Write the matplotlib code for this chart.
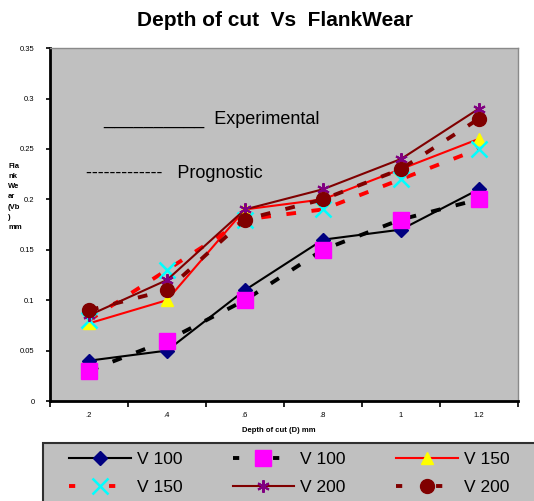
import matplotlib.pyplot as plt
from matplotlib.lines import Line2D
from matplotlib.patches import Rectangle

plt.rcParams['font.family'] = ['Liberation Sans', 'DejaVu Sans']

depth_labels = [".2", ".4", ".6", ".8", "1", "1.2"]
v100_exp = [0.04, 0.05, 0.11, 0.16, 0.17, 0.21]
v100_prog = [0.03, 0.06, 0.10, 0.15, 0.18, 0.20]
v150_exp = [0.077, 0.10, 0.19, 0.20, 0.23, 0.26]
v150_prog = [0.08, 0.13, 0.18, 0.19, 0.22, 0.25]
v200_exp = [0.085, 0.12, 0.19, 0.21, 0.24, 0.29]
v200_prog = [0.09, 0.11, 0.18, 0.20, 0.23, 0.28]

x = list(range(len(depth_labels)))

# line / marker styles for the six series
styles = [
    dict(color="black", solid=True, marker="D", ms=7, mfc="#000080", mec="#000080", mew=1),
    dict(color="black", solid=False, marker="s", ms=11.5, mfc="#ff00ff", mec="#ff00ff", mew=1),
    dict(color="red", solid=True, marker="^", ms=8.5, mfc="yellow", mec="yellow", mew=1),
    dict(color="red", solid=False, marker="x", ms=11, mfc="cyan", mec="cyan", mew=1.8),
    dict(color="#800000", solid=True, marker=(6, 2, 0), ms=9, mfc="#800080", mec="#800080", mew=1.5),
    dict(color="#800000", solid=False, marker="o", ms=10, mfc="#800000", mec="#800000", mew=1),
]
series = [v100_exp, v100_prog, v150_exp, v150_prog, v200_exp, v200_prog]
names = ["V 100", "V 100", "V 150", "V 150", "V 200", "V 200"]

fig = plt.figure(figsize=(5.34, 5.01), dpi=100)
ax = fig.add_axes([0.0936, 0.1996, 0.8764, 0.7044])
ax.set_facecolor("#c0c0c0")

proxies = []
for ys, st, nm in zip(series, styles, names):
    if st["solid"]:
        ls, lw = "-", 1.5
    else:
        ls, lw = (0, (2.5, 4)), 2.8
    ax.plot(x, ys, color=st["color"], lw=lw, ls=ls, marker=st["marker"],
            ms=st["ms"], mfc=st["mfc"], mec=st["mec"], mew=st["mew"])
    leg_ls = "-" if st["solid"] else (0, (1.6, 8.7))
    proxies.append(Line2D([], [], color=st["color"], lw=lw, ls=leg_ls,
                          marker=st["marker"], ms=st["ms"], mfc=st["mfc"],
                          mec=st["mec"], mew=st["mew"], label=nm))

ax.set_xlim(-0.5, 5.5)
ax.set_ylim(0, 0.35)
ax.set_xticks([i - 0.5 for i in range(7)])
ax.set_xticklabels([])
ax.set_xticks(x, depth_labels, minor=True)
ax.tick_params(axis="x", which="minor", length=0, labelsize=5.5, pad=8)
ax.tick_params(axis="x", which="major", length=4, width=1.2, direction="out")
ax.set_yticks([0, 0.05, 0.1, 0.15, 0.2, 0.25, 0.3, 0.35])
ax.set_yticklabels(["0", "0.05", "0.1", "0.15", "0.2", "0.25", "0.3", "0.35"])
ax.tick_params(axis="y", length=3, width=1.2, labelsize=5.5, pad=8)

for s in ["left", "bottom"]:
    ax.spines[s].set_linewidth(2)
    ax.spines[s].set_color("black")
for s in ["top", "right"]:
    ax.spines[s].set_linewidth(1)
    ax.spines[s].set_color("#8a8a8a")

ax.text(0.18, 0.275, "__________  Experimental", fontsize=13)
ax.text(-0.04, 0.221, "-------------   Prognostic", fontsize=13)

fig.text(0.515, 0.96, "Depth of cut  Vs  FlankWear", ha="center", va="center",
         fontsize=15, fontweight="bold")
fig.text(0.015, 0.607, "Fla\nnk\nWe\nar\n(Vb\n)\nmm", ha="left", va="center",
         fontsize=5.5, fontweight="bold", linespacing=1.65)
fig.text(0.522, 0.141, "Depth of cut (D) mm", ha="center", va="center",
         fontsize=5.5, fontweight="bold")

# legend box (runs off the bottom/right of the image like the original)
fig.patches.append(Rectangle((43 / 534, -0.05), 1.0, 58 / 501 + 0.05,
                             transform=fig.transFigure, fc="#c0c0c0",
                             ec="#303030", lw=1.5, zorder=0))

order = [0, 3, 1, 4, 2, 5]
handles = [proxies[i] for i in order]
leg = fig.legend(handles=handles, labels=[h.get_label() for h in handles],
                 ncol=3, loc="upper left", bbox_to_anchor=(69 / 534, 1 - 452 / 501),
                 fontsize=12.5, frameon=False, handlelength=3.55,
                 columnspacing=2.9, handletextpad=0.35, borderpad=0,
                 borderaxespad=0, labelspacing=0.74)

fig.savefig("out.png", dpi=100)
